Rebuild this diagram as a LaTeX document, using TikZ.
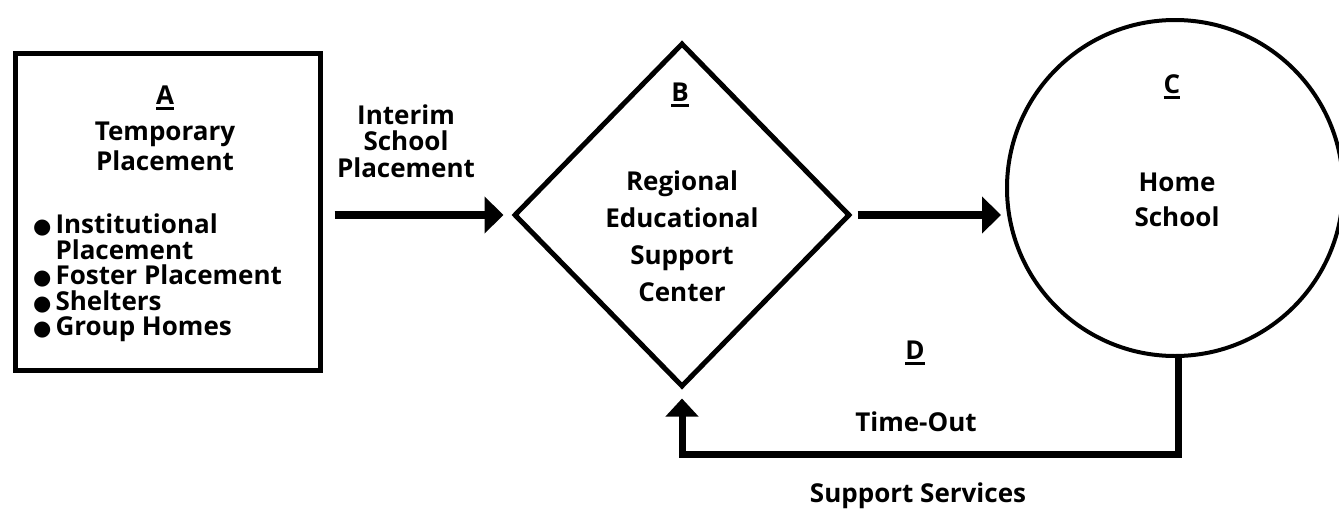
\documentclass[tikz,border=0pt]{standalone}
\usepackage{fontspec}
\setmainfont{Open Sans}
\newfontfamily\symfont{DejaVu Sans}
\usetikzlibrary{shapes.geometric,arrows.meta}
\definecolor{ink}{RGB}{0,0,0}
\newcommand{\dotmark}{{\symfont\fontsize{21}{21}\selectfont ●}\hspace{4pt}}
\newcommand{\ulabel}[1]{\sbox0{#1}\rlap{\rule[-5pt]{\wd0}{2.5pt}}\usebox0}
\tikzset{
  outline/.style={draw=ink, line width=5pt, inner sep=0pt},
  thickarrow/.style={draw=ink, line width=8pt, -{Triangle[length=19pt,width=36pt]}},
  caption/.style={text=ink, font=\bfseries\fontsize{26}{29}\selectfont, align=center, inner sep=0pt},
}

\begin{document}
\begin{tikzpicture}[x=1pt,y=-1pt]
  \useasboundingbox (0,0) rectangle (1339,514);
  \node[outline, rectangle, minimum width=305pt, minimum height=317pt] (boxA) at (167.5,211.5) {};
  \node[caption] (letterA) at (165,98) {\ulabel{A}};
  \node[caption, font=\bfseries\fontsize{26}{30}\selectfont] (titleA) at (165,146) {Temporary\\Placement};
  \node[caption, align=left, anchor=west, font=\bfseries\fontsize{26}{25.5}\selectfont] (listA) at (33,278) {\dotmark Institutional\\\hphantom{\dotmark}Placement\\\dotmark Foster Placement\\\dotmark Shelters\\\dotmark Group Homes};
  \node[caption, font=\bfseries\fontsize{26}{26.5}\selectfont] (interim) at (406,141) {Interim\\School\\Placement};

  \node[outline, diamond, minimum width=336pt, minimum height=344pt] (diaB) at (682,215) {};
  \node[caption] (letterB) at (680,95) {\ulabel{B}};
  \node[caption, font=\bfseries\fontsize{26}{37}\selectfont] (textB) at (682,236) {Regional\\Educational\\Support\\Center};

  \node[outline, circle, line width=4pt, minimum size=336pt] (circC) at (1175,188) {};
  \node[caption] (letterC) at (1172,87) {\ulabel{C}};
  \node[caption, font=\bfseries\fontsize{26}{35}\selectfont] (textC) at (1177,199.5) {Home\\School};

  \draw[thickarrow, shorten <=12pt, shorten >=8pt] (boxA.east |- diaB.west) -- (diaB.west);
  \draw[thickarrow, shorten <=5pt, shorten >=4pt] (diaB.east) -- (diaB.east -| circC.west);
  \draw[draw=ink, line width=7pt, -{Triangle[length=18pt,width=32pt]}, shorten >=9pt] ([xshift=3pt]circC.south) -- ++(0,96) -| (diaB.south);

  \node[caption] (letterD) at (915,353) {\ulabel{D}};
  \node[caption] (timeout) at (916,422) {Time-Out};
  \node[caption] (support) at (918,496) {Support Services};
\end{tikzpicture}
\end{document}
